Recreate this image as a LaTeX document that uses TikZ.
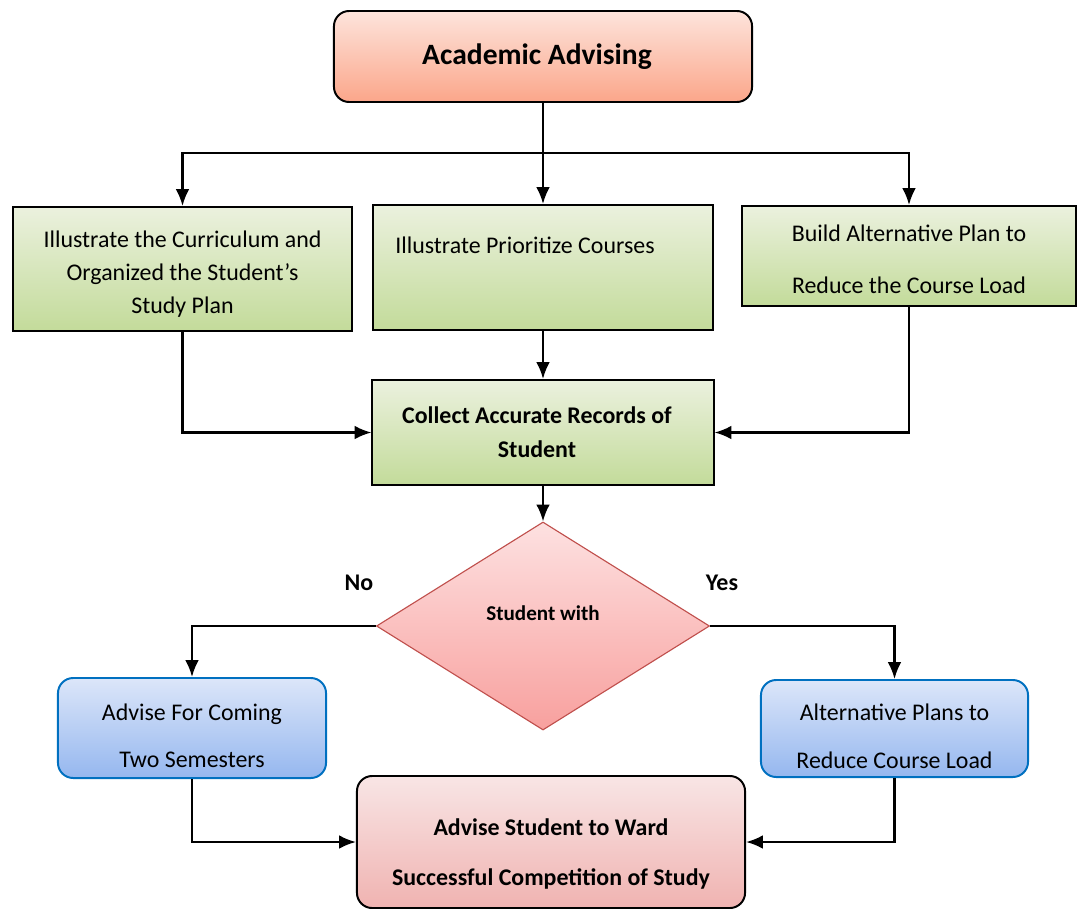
\documentclass[tikz,border=0pt]{standalone}
\usepackage{fontspec}
\setmainfont{Carlito}
\usepackage{xcolor}
\usetikzlibrary{arrows.meta,shapes.geometric}
\tikzset{>={Latex[length=4.2mm,width=3.4mm]}}

\definecolor{salmontop}{HTML}{FDE4DC}
\definecolor{salmonbot}{HTML}{FBA68A}
\definecolor{greentop}{HTML}{EBF1DE}
\definecolor{greenbot}{HTML}{C3DB9A}
\definecolor{redtop}{HTML}{FDE1E1}
\definecolor{redbot}{HTML}{F8A09E}
\definecolor{redline}{HTML}{C0504D}
\definecolor{bluetop}{HTML}{DCE6F9}
\definecolor{bluebot}{HTML}{95B7EF}
\definecolor{blueline}{HTML}{0070C0}
\definecolor{pinktop}{HTML}{F8E5E5}
\definecolor{pinkbot}{HTML}{F0B3B1}

\tikzset{
	headbox/.style={draw, line width=1.4pt, rounded corners=0.38cm, top color=salmontop, bottom color=salmonbot, font=\fontsize{21}{24}\selectfont\bfseries},
	greenbox/.style={draw, line width=1.4pt, top color=greentop, bottom color=greenbot, align=center, inner sep=0pt},
	bluebox/.style={draw=blueline, line width=1.4pt, rounded corners=0.38cm, top color=bluetop, bottom color=bluebot, align=center, inner sep=0pt, font=\fontsize{17}{34}\selectfont},
	endbox/.style={draw, line width=1.4pt, rounded corners=0.38cm, top color=pinktop, bottom color=pinkbot, align=center, inner sep=0pt, font=\fontsize{17}{35.5}\selectfont\bfseries},
	decision/.style={diamond, draw=redline, line width=0.8pt, top color=redtop, bottom color=redbot, inner sep=0pt, aspect=1.6, font=\fontsize{15}{18}\selectfont\bfseries},
	flow/.style={line width=1.6pt}
}

\begin{document}
\begin{tikzpicture}[x=0.025cm, y=-0.025cm]
	\useasboundingbox (0,0) rectangle (1078,908);

	% Top of the chart
	\node[headbox, minimum width=10.45cm, minimum height=2.275cm] (advising) at (543,56.5) {Academic Advising\hspace*{0.3cm}};
	\coordinate (split) at (543,153); %branching point

	% Three green tasks
	\node[greenbox, minimum width=8.475cm, minimum height=3.1cm, text height=66pt, font=\fontsize{17}{23.5}\selectfont] (curriculum) at (182.5,269) {Illustrate the Curriculum and\\Organized the Student's\\Study Plan};
	\node[greenbox, minimum width=8.5cm, minimum height=3.125cm, text depth=1.1cm, font=\fontsize{17}{23.5}\selectfont] (prioritize) at (543,267.5) {Illustrate Prioritize Courses\hspace*{0.9cm}};
	\node[greenbox, minimum width=8.35cm, minimum height=2.5cm, text height=54pt, font=\fontsize{17}{37.5}\selectfont] (altbuild) at (909,256) {Build Alternative Plan to\\Reduce the Course Load};
	\node[greenbox, minimum width=8.525cm, minimum height=2.625cm, font=\fontsize{17}{24}\selectfont\bfseries] (records) at (543,432.5) {Collect Accurate Records of\hspace*{0.3cm}\\Student\hspace*{0.3cm}};

	% Decision
	\node[decision, minimum width=8.325cm, minimum height=5.2cm, text depth=0.65cm] (check) at (543,626) {Student with};
	\node[font=\fontsize{17}{20}\selectfont\bfseries] (nolbl) at (359,583) {No};
	\node[font=\fontsize{17}{20}\selectfont\bfseries] (yeslbl) at (722,583) {Yes};

	% Outcomes
	\node[bluebox, minimum width=6.7cm, minimum height=2.5cm, text height=2cm] (coming) at (192,728) {Advise For Coming\\Two Semesters};
	\node[bluebox, minimum width=6.675cm, minimum height=2.425cm, text height=2cm] (reduce) at (894.5,728.5) {Alternative Plans to\\Reduce Course Load};
	\node[endbox, minimum width=9.7cm, minimum height=3.3cm, text height=2.25cm] (ward) at (551,842) {Advise Student to Ward\\Successful Competition of Study};

	% Connectors
	\draw[flow] (advising.south) -- (split);
	\draw[flow,->] (split) -| (curriculum.north);
	\draw[flow,->] (split) -| (altbuild.north);
	\draw[flow,->] (advising.south) -- (prioritize.north);
	\draw[flow,->] (prioritize.south) -- (records.north);
	\draw[flow,->] (curriculum.south) |- (records.west);
	\draw[flow,->] (altbuild.south) |- (records.east);
	\draw[flow,->] (records.south) -- (check.north);
	\draw[flow,->] (check.west) -| (coming.north);
	\draw[flow,->] (check.east) -| (reduce.north);
	\draw[flow,->] (coming.south) |- (ward.west);
	\draw[flow,->] (reduce.south) |- (ward.east);
\end{tikzpicture}
\end{document}
